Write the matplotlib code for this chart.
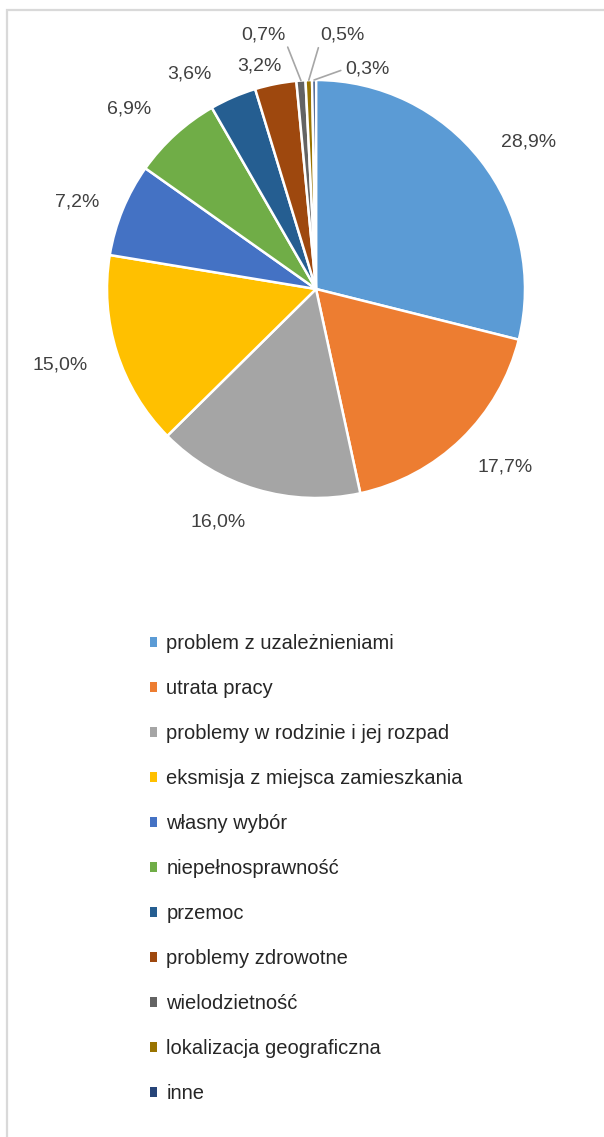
import numpy as np
import matplotlib
matplotlib.use("Agg")
import matplotlib.pyplot as plt
from matplotlib.patches import Rectangle, Patch

plt.rcParams['font.family'] = ['Liberation Sans', 'DejaVu Sans']

# data
categories = [
    "problem z uzależnieniami",
    "utrata pracy",
    "problemy w rodzinie i jej rozpad",
    "eksmisja z miejsca zamieszkania",
    "własny wybór",
    "niepełnosprawność",
    "przemoc",
    "problemy zdrowotne",
    "wielodzietność",
    "lokalizacja geograficzna",
    "inne",
]
shares = [28.9, 17.7, 16.0, 15.0, 7.2, 6.9, 3.6, 3.2, 0.7, 0.5, 0.3]
colors = ["#5B9BD5", "#ED7D31", "#A5A5A5", "#FFC000", "#4472C4", "#70AD47",
          "#255E91", "#9E480E", "#636363", "#997300", "#264478"]

# label offsets (pixels) from the outer middle of each slice
label_offsets = [(48, 18), (44, -28), (-38, -33), (-57, -13), (-45, 8),
                 (-46, 25), (-44, 23), (-16, 18), (-37, 46), (34, 45), (53, 11)]
leader_relpos = {8: (1.0, 0.0), 9: (0.0, 0.2), 10: (0.0, 0.5)}

W, H = 604, 1137
fig = plt.figure(figsize=(W / 100, H / 100), dpi=100)

# chart frame (cut off at right and bottom in the source)
fig.patches.append(Rectangle((7 / W, -0.01), 1.1, 1 - 10 / H + 0.01,
                             transform=fig.transFigure, fill=False,
                             edgecolor="#d9d9d9", linewidth=1.6))

cx, cy, r = 316, 289, 209
ax = fig.add_axes([(cx - r) / W, 1 - (cy + r) / H, 2 * r / W, 2 * r / H])
wedges, _ = ax.pie(shares, colors=colors, startangle=90, counterclock=False,
                   radius=1, wedgeprops=dict(edgecolor="white", linewidth=1.8))
ax.set_xlim(-1, 1)
ax.set_ylim(-1, 1)
ax.set_aspect("equal")
ax.axis("off")

labels = [f"{v:.1f}%".replace(".", ",") for v in shares]
for i, (w, lab) in enumerate(zip(wedges, labels)):
    ang = np.deg2rad((w.theta1 + w.theta2) / 2)
    x, y = np.cos(ang), np.sin(ang)
    kw = {}
    if i in leader_relpos:
        kw["arrowprops"] = dict(arrowstyle="-", color="#a6a6a6", lw=1.2,
                                shrinkA=1, shrinkB=0, relpos=leader_relpos[i])
    ax.annotate(lab, xy=(x, y), xytext=label_offsets[i],
                textcoords="offset pixels", ha="center", va="center",
                fontsize=14, color="#404040", annotation_clip=False, **kw)

handles = [Patch(facecolor=c, edgecolor="none") for c in colors]
fig.legend(handles, categories, loc="upper left",
           bbox_to_anchor=(150 / W, 1 - 634 / H), frameon=False,
           fontsize=14.5, handlelength=0.36, handleheight=0.4,
           handletextpad=0.45, labelspacing=1.29, borderpad=0,
           borderaxespad=0, labelcolor="#262626")

fig.savefig("out.png", dpi=100)
